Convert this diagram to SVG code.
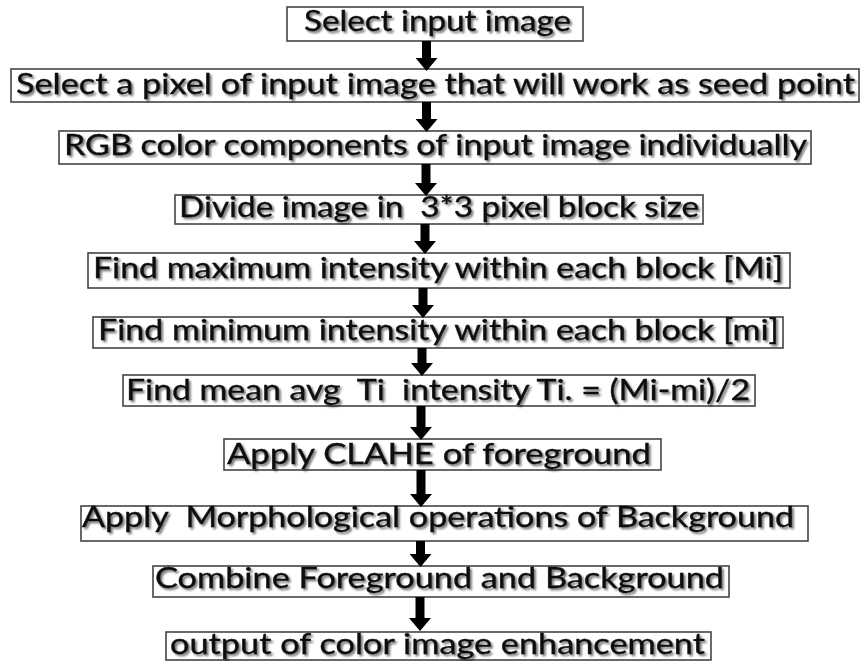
<svg xmlns="http://www.w3.org/2000/svg" width="861" height="661" viewBox="0 0 861 661">
<style>
.box{fill:#fff;stroke:#444;stroke-width:1.6}
.t{font-family:Lato,"Open Sans","Liberation Sans",sans-serif;font-size:28px;font-weight:400;fill:#111;stroke:#111;stroke-width:0.35;white-space:pre;filter:url(#sh)}
.arrow{stroke:#000;stroke-width:9;fill:none;marker-end:url(#head)}
</style>
<defs>
<filter id="sh" x="-5%" y="-30%" width="110%" height="160%">
<feGaussianBlur in="SourceAlpha" stdDeviation="1.3" result="b"/>
<feOffset in="b" dx="1.5" dy="1.5" result="o"/>
<feComponentTransfer in="o" result="s"><feFuncA type="linear" slope="0.55"/></feComponentTransfer>
<feMerge><feMergeNode in="s"/><feMergeNode in="SourceGraphic"/></feMerge>
</filter>
<marker id="head" markerUnits="userSpaceOnUse" viewBox="0 -11 13 22" refX="0" refY="0" markerWidth="13" markerHeight="22" orient="auto">
<path d="M0,-11 L13,0 L0,11 z" fill="#000"/>
</marker>
</defs>
<rect width="861" height="661" fill="#fff"/>
<g id="n1"><rect class="box" x="287" y="7" width="296" height="34"/><text class="t" x="304" y="31" textLength="267" lengthAdjust="spacingAndGlyphs">Select input image</text></g>
<g id="n2"><rect class="box" x="11" y="69" width="848" height="33"/><text class="t" x="16" y="94" textLength="839" lengthAdjust="spacingAndGlyphs">Select a pixel of input image that will work as seed point</text></g>
<g id="n3"><rect class="box" x="59" y="131" width="752" height="33"/><text class="t" x="64" y="155" textLength="743" lengthAdjust="spacingAndGlyphs">RGB color components of input image individually</text></g>
<g id="n4"><rect class="box" x="175" y="195" width="528" height="29"/><text class="t" x="179" y="217" textLength="520" lengthAdjust="spacingAndGlyphs">Divide image in  3*3 pixel block size</text></g>
<g id="n5"><rect class="box" x="88" y="253" width="702" height="35"/><text class="t" x="93" y="278" textLength="690" lengthAdjust="spacingAndGlyphs">Find maximum intensity within each block [Mi]</text></g>
<g id="n6"><rect class="box" x="93" y="317" width="690" height="31"/><text class="t" x="98" y="340" textLength="681" lengthAdjust="spacingAndGlyphs">Find minimum intensity within each block [mi]</text></g>
<g id="n7"><rect class="box" x="123" y="375" width="632" height="31"/><text class="t" x="126" y="400" textLength="624" lengthAdjust="spacingAndGlyphs">Find mean avg  Ti  intensity Ti. = (Mi-mi)/2</text></g>
<g id="n8"><rect class="box" x="224" y="439" width="437" height="31"/><text class="t" x="227" y="464" textLength="424" lengthAdjust="spacingAndGlyphs">Apply CLAHE of foreground</text></g>
<g id="n9"><rect class="box" x="81" y="506" width="727" height="35"/><text class="t" x="82" y="527" textLength="712" lengthAdjust="spacingAndGlyphs">Apply  Morphological operations of Background</text></g>
<g id="n10"><rect class="box" x="153" y="566" width="576" height="31"/><text class="t" x="155" y="588" textLength="569" lengthAdjust="spacingAndGlyphs">Combine Foreground and Background</text></g>
<g id="n11"><rect class="box" x="166" y="632" width="545" height="28"/><text class="t" x="170" y="654" textLength="535" lengthAdjust="spacingAndGlyphs">output of color image enhancement</text></g>
<g id="connectors">
<line class="arrow" x1="426.5" y1="41" x2="426.5" y2="58"/>
<line class="arrow" x1="426.5" y1="102" x2="426.5" y2="119"/>
<line class="arrow" x1="426" y1="164" x2="426" y2="183"/>
<line class="arrow" x1="425" y1="224" x2="425" y2="241"/>
<line class="arrow" x1="423" y1="288" x2="423" y2="305"/>
<line class="arrow" x1="422" y1="348" x2="422" y2="363"/>
<line class="arrow" x1="421" y1="406" x2="421" y2="427"/>
<line class="arrow" x1="421" y1="470" x2="421" y2="494"/>
<line class="arrow" x1="420.5" y1="541" x2="420.5" y2="554"/>
<line class="arrow" x1="420" y1="597" x2="420" y2="618"/>
</g>
</svg>
